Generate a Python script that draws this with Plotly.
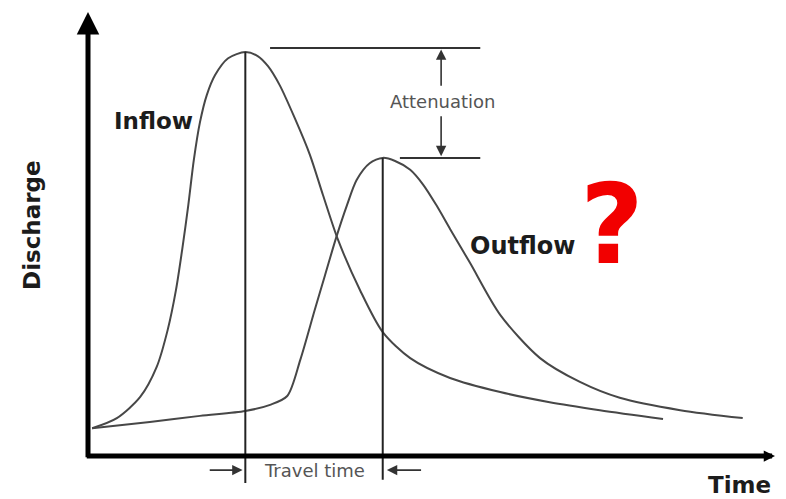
import plotly.graph_objects as go

# ---- data (time units, discharge units) ----
inflow_time = [0.6, 4.2, 7.6, 10.0, 11.6, 12.8, 13.7, 14.6, 15.4, 16.3, 17.3, 18.5, 20.4, 22.9,
               24.7, 26.2, 27.9, 30.1, 32.3, 34.2, 36.4, 39.6, 42.9, 46.9, 52.7, 60.0, 67.2, 74.5, 83.7]
inflow_q = [6.3, 8.6, 13.4, 20.2, 28.6, 37.6, 46.7, 56.9, 67.1, 75.7, 81.9, 86.4, 90.2, 91.6,
            90.7, 88.4, 84.1, 76.6, 68.3, 59.2, 49.0, 37.6, 28.1, 22.2, 17.7, 14.5, 12.2, 10.4, 8.4]

outflow_time = [0.6, 9.0, 16.3, 22.9, 26.5, 29.0, 30.9, 33.0, 34.5, 36.1, 37.7, 39.1, 41.0, 42.9,
                44.7, 46.9, 48.8, 50.7, 52.7, 55.6, 60.0, 65.8, 71.6, 77.4, 86.2, 95.3]
outflow_q = [6.3, 7.7, 9.1, 10.2, 11.6, 13.6, 21.8, 33.1, 41.0, 49.4, 56.9, 62.6, 66.4, 67.6,
             66.9, 64.9, 61.5, 56.9, 51.5, 43.8, 32.0, 22.2, 16.8, 13.2, 10.4, 8.6]

labels = {"inflow": "Inflow", "outflow": "Outflow", "att": "Attenuation",
          "travel": "Travel time", "x": "Time", "y": "Discharge", "q": "?"}

# peaks derived from the series
i_in = inflow_q.index(max(inflow_q))
i_out = outflow_q.index(max(outflow_q))
t_in, q_in = inflow_time[i_in], inflow_q[i_in]
t_out, q_out = outflow_time[i_out], outflow_q[i_out]

CURVE = "#474747"
DARK = "#222222"
TXT = "#1c1c1c"

fig = go.Figure()
fig.add_trace(go.Scatter(x=inflow_time, y=inflow_q, mode="lines",
                         line=dict(color=CURVE, width=2, shape="spline", smoothing=0.8),
                         hoverinfo="skip", showlegend=False))
fig.add_trace(go.Scatter(x=outflow_time, y=outflow_q, mode="lines",
                         line=dict(color=CURVE, width=2, shape="spline", smoothing=0.8),
                         hoverinfo="skip", showlegend=False))

shapes = []
# vertical lines through the peaks
shapes.append(dict(type="line", xref="x", yref="y", x0=t_in, x1=t_in, y0=q_in, y1=-6.1,
                   line=dict(color=DARK, width=2)))
shapes.append(dict(type="line", xref="x", yref="y", x0=t_out, x1=t_out, y0=q_out, y1=-5.4,
                   line=dict(color=DARK, width=2)))
# horizontal lines for attenuation
att_x_end = 57.1
shapes.append(dict(type="line", xref="x", yref="y", x0=t_in + 3.6, x1=att_x_end,
                   y0=q_in + 0.9, y1=q_in + 0.9, line=dict(color="#333333", width=2)))
shapes.append(dict(type="line", xref="x", yref="y", x0=t_out + 2.5, x1=att_x_end,
                   y0=q_out, y1=q_out, line=dict(color="#333333", width=2)))

annotations = []


def arrow(x, y, ax, ay, width, size, head=2, color="black"):
    annotations.append(dict(x=x, y=y, ax=ax, ay=ay, xref="x", yref="y", axref="x", ayref="y",
                            text="", showarrow=True, arrowhead=head, arrowsize=size,
                            arrowwidth=width, arrowcolor=color, standoff=0, startstandoff=0))


# axes
arrow(0, 100.7, 0, -0.6, 5, 0.9)
arrow(100.0, 0, -0.4, 0, 5, 0.45)

# attenuation arrows
att_x = 51.4
arrow(att_x, q_in + 0.6, att_x, 83.6, 1.6, 1.3, color="#333333")
arrow(att_x, q_out + 0.4, att_x, 77.4, 1.6, 1.3, color="#333333")
annotations.append(dict(x=att_x + 0.3, y=80.5, xref="x", yref="y", text=labels["att"], showarrow=False,
                        font=dict(family="DejaVu Sans", size=18, color="#555555")))

# travel time arrows
tt_y = -3.2
arrow(t_in - 0.4, tt_y, t_in - 5.4, tt_y, 1.6, 1.3, color="#333333")
arrow(t_out + 0.6, tt_y, t_out + 5.8, tt_y, 1.6, 1.3, color="#333333")
annotations.append(dict(x=32.9, y=tt_y, xref="x", yref="y", text=labels["travel"], showarrow=False,
                        font=dict(family="DejaVu Sans", size=18, color="#555555")))

# labels
bold = dict(family="DejaVu Sans", size=23, color=TXT, weight="bold")
annotations.append(dict(x=9.6, y=76.0, xref="x", yref="y", text=labels["inflow"], showarrow=False, font=bold))
annotations.append(dict(x=63.2, y=47.6, xref="x", yref="y", text=labels["outflow"], showarrow=False,
                        font=dict(bold, size=24)))
annotations.append(dict(x=-8.15, y=52.4, xref="x", yref="y", text=labels["y"], showarrow=False,
                        textangle=-90, font=dict(bold, size=23)))
annotations.append(dict(x=94.9, y=-6.6, xref="x", yref="y", text=labels["x"], showarrow=False,
                        font=dict(bold, size=23)))
annotations.append(dict(x=76.3, y=52.4, xref="x", yref="y", text=labels["q"], showarrow=False,
                        font=dict(family="DejaVu Sans", size=110, color="#f20000", weight="bold")))

# the page body has an 8px default margin, so the figure is 8px smaller and its
# ranges start where the page's 8th pixel falls
fig.update_layout(
    width=778, height=491,
    margin=dict(l=0, r=0, t=0, b=0),
    paper_bgcolor="white", plot_bgcolor="white",
    xaxis=dict(range=[-11.645, 101.60], visible=False, fixedrange=True),
    yaxis=dict(range=[-9.75, 101.59], visible=False, fixedrange=True),
    shapes=shapes, annotations=annotations, showlegend=False,
)

fig.write_html("out.html")
